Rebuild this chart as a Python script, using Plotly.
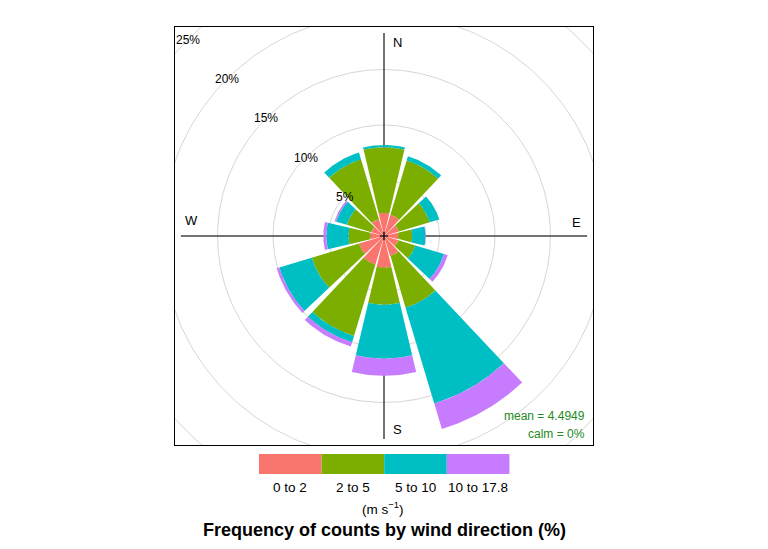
import numpy as np
import plotly.graph_objects as go

# -----------------------------
# Wind rose data (% of counts)
# -----------------------------
directions = [0, 30, 60, 90, 120, 150, 180, 210, 240, 270, 300, 330]
speed_bins = ["0 to 2", "2 to 5", "5 to 10", "10 to 17.8"]
bin_colours = ["#F8766D", "#7CAE00", "#00BFC4", "#C77CFF"]
freq_0_2 = [2.1, 2.0, 1.4, 1.3, 1.35, 1.9, 2.85, 2.7, 2.35, 1.25, 1.2, 1.6]
freq_2_5 = [5.9, 5.1, 2.9, 1.25, 1.6, 4.85, 3.35, 6.7, 4.45, 1.95, 2.3, 5.6]
freq_5_10 = [0.2, 0.4, 0.9, 1.2, 2.7, 9.0, 4.85, 0.6, 3.05, 2.0, 1.0, 0.65]
freq_10_18 = [0.0, 0.0, 0.0, 0.05, 0.35, 2.4, 1.55, 0.4, 0.25, 0.27, 0.15, 0.0]
ring_levels = [5, 10, 15, 20, 25]
mean_speed = 4.4949
calm_pct = 0

# the page body has an 8px margin, so the figure is drawn 8px in from the corner
OFF = 8
W, H = 768 - 2 * OFF, 549 - 2 * OFF
RMAX = 18.83
HALF = 13.3  # half width of each wedge in degrees


def px(x):
    return (x - OFF) / W


def py(y):
    return 1 - (y - OFF) / H


def label(text, x, y, size=13, color="black", xanchor="center"):
    return dict(x=px(x), y=py(y), xref="paper", yref="paper", text=text,
                xanchor=xanchor, yanchor="middle", showarrow=False,
                font=dict(size=size, color=color))


fig = go.Figure()

# -----------------------------
# Grey rings
# -----------------------------
t = np.linspace(0, 2 * np.pi, 361)
for r in ring_levels:
    fig.add_trace(go.Scatter(
        x=r * np.sin(t), y=r * np.cos(t), mode="lines",
        line=dict(color="#d6d6d6", width=1), hoverinfo="skip"
    ))

# compass axes
fig.add_trace(go.Scatter(x=[-18.3, 18.3], y=[0, 0], mode="lines",
                         line=dict(color="#444444", width=1.5), hoverinfo="skip"))
fig.add_trace(go.Scatter(x=[0, 0], y=[-18.3, 18.3], mode="lines",
                         line=dict(color="#444444", width=1.5), hoverinfo="skip"))

# -----------------------------
# Wedges
# -----------------------------
freqs = np.array([freq_0_2, freq_2_5, freq_5_10, freq_10_18])
cum = np.vstack([np.zeros(len(directions)), np.cumsum(freqs, axis=0)])

for k, colour in enumerate(bin_colours):
    for j, d in enumerate(directions):
        r0, r1 = cum[k, j], cum[k + 1, j]
        if r1 - r0 <= 0:
            continue
        th = np.radians(np.linspace(d - HALF, d + HALF, 40))
        xs = np.concatenate([r1 * np.sin(th), r0 * np.sin(th[::-1])])
        ys = np.concatenate([r1 * np.cos(th), r0 * np.cos(th[::-1])])
        fig.add_trace(go.Scatter(
            x=xs, y=ys, mode="lines", fill="toself", fillcolor=colour,
            line=dict(width=0, color=colour), hoverinfo="skip"
        ))

# centre mark
fig.add_trace(go.Scatter(x=[0], y=[0], mode="markers",
                         marker=dict(symbol="cross-thin", size=6,
                                     line=dict(color="black", width=1.2)),
                         hoverinfo="skip"))

# -----------------------------
# Text
# -----------------------------
ann = []
s45 = np.sqrt(0.5)
for r in ring_levels:
    ann.append(dict(x=-r * s45, y=r * s45, xref="x", yref="y", text=f"{r}%",
                    xanchor="center", yanchor="middle",
                    showarrow=False, font=dict(size=12, color="black")))

for lab, x, y in [("N", 398, 43), ("E", 576, 222), ("S", 398, 429), ("W", 191, 221)]:
    ann.append(label(lab, x, y))

ann.append(label(f"mean = {mean_speed}", 587, 416, size=12, color="#228B22", xanchor="right"))
ann.append(label(f"calm = {calm_pct}%", 587, 434, size=12, color="#228B22", xanchor="right"))

# colour key
shapes = []
x0, bw = 259, 62.6
for i, (lab, colour) in enumerate(zip(speed_bins, bin_colours)):
    shapes.append(dict(type="rect", xref="paper", yref="paper",
                       x0=px(x0 + i * bw), x1=px(x0 + (i + 1) * bw),
                       y0=py(474), y1=py(454), fillcolor=colour, line_width=0))
    ann.append(label(lab, x0 + (i + 0.5) * bw, 487, size=13.5))

ann.append(label("(m s<sup>\u22121</sup>)", 383, 508, size=13.5))
ann.append(label("<b>Frequency of counts by wind direction (%)</b>", 384, 529.5, size=18))

axis_style = dict(range=[-RMAX, RMAX], showgrid=False, zeroline=False,
                  showticklabels=False, ticks="", showline=True, mirror=True,
                  linecolor="black", linewidth=1, fixedrange=True)

fig.update_layout(
    width=W, height=H,
    margin=dict(l=0, r=0, t=0, b=0),
    paper_bgcolor="white", plot_bgcolor="white",
    showlegend=False,
    font=dict(family="Liberation Sans, Arial, sans-serif"),
    xaxis=dict(domain=[px(175), px(593)], **axis_style),
    yaxis=dict(domain=[py(445), py(27)], **axis_style),
    annotations=ann, shapes=shapes,
)

fig.write_html("out.html")
